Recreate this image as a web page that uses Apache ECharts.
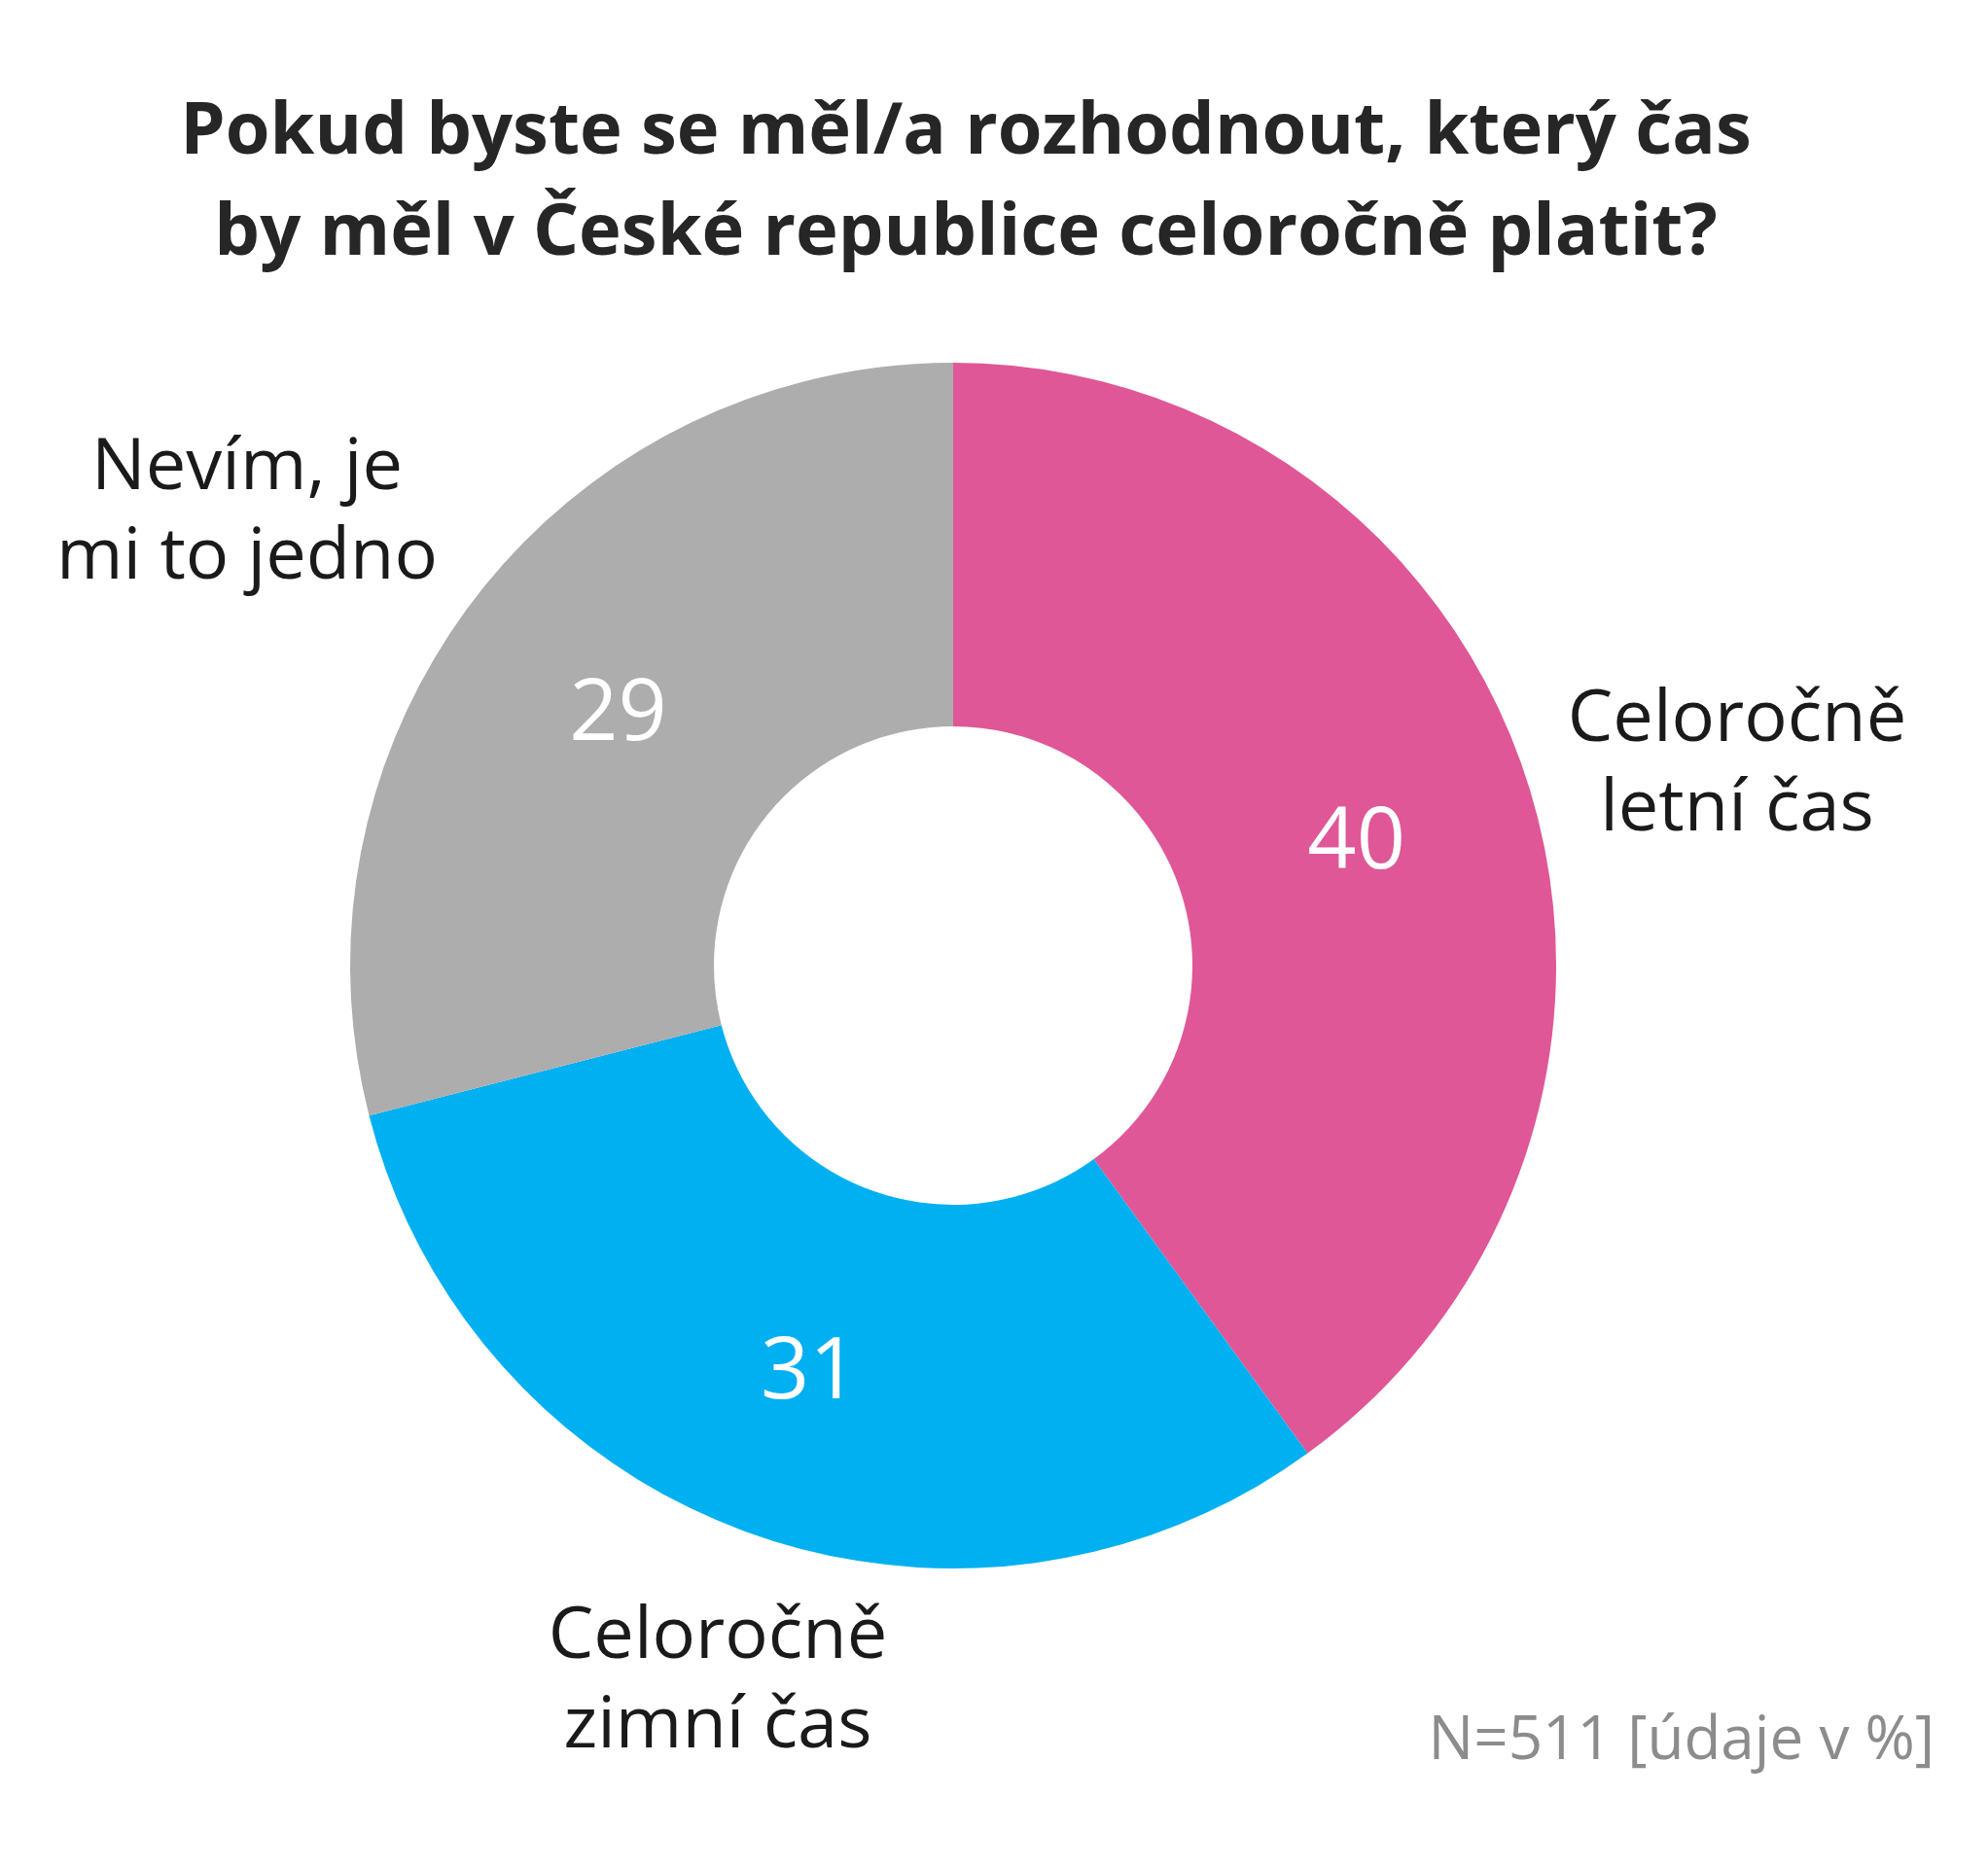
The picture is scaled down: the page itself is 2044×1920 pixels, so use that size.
<!DOCTYPE html>
<html>
<head>
<meta charset="utf-8">
<script src="https://cdn.jsdelivr.net/npm/echarts@6/dist/echarts.min.js"></script>
<style>html,body{margin:0;padding:0;background:#fff;}#c{width:2044px;height:1920px;}</style>
</head>
<body>
<div id="c"></div>
<script>
const titleText = 'Pokud byste se měl/a rozhodnout, který čas\nby měl v České republice celoročně platit?';
const categories = ['Celoročně\nletní čas', 'Celoročně\nzimní čas', 'Nevím, je\nmi to jedno'];
const values = [40, 31, 29];
const colors = ['#DF5796', '#00B0F0', '#ADADAD'];
const footnote = 'N=511 [údaje v %]';

const namePos = [[1786, 787], [738, 1730], [254, 528]];

const chart = echarts.init(document.getElementById('c'), null, {renderer: 'canvas'});
const font = '"Open Sans", "Noto Sans", sans-serif';
chart.setOption({
  backgroundColor: '#fff',
  animation: false,
  title: [{
    text: titleText,
    left: 988,
    top: 80,
    textAlign: 'center',
    textStyle: {fontFamily: font, fontWeight: 'bold', fontSize: 74, lineHeight: 104, color: '#262626'}
  }, {
    text: footnote,
    right: 50,
    top: 1755,
    textStyle: {fontFamily: font, fontWeight: 'normal', fontSize: 62, color: '#8C8C8C'}
  }],
  series: [{
    type: 'pie',
    center: [980, 993],
    radius: [246, 620],
    startAngle: 90,
    clockwise: true,
    silent: true,
    avoidLabelOverlap: false,
    data: values.map((v, i) => ({value: v, name: categories[i], itemStyle: {color: colors[i]}})),
    label: {show: true, position: 'inside', formatter: '{c}', color: '#fff', fontFamily: font, fontSize: 88},
    labelLayout: {dy: 10},
    labelLine: {show: false},
    emphasis: {disabled: true}
  }, {
    type: 'pie',
    center: [980, 993],
    radius: [246, 620],
    startAngle: 90,
    clockwise: true,
    silent: true,
    avoidLabelOverlap: false,
    data: values.map((v, i) => ({value: v, name: categories[i], itemStyle: {color: 'rgba(0,0,0,0)'}})),
    label: {show: true, position: 'outside', formatter: '{b}', color: '#1A1A1A', fontFamily: font, fontSize: 74, lineHeight: 92},
    labelLine: {show: false},
    labelLayout: function (p) {
      const pos = namePos[p.dataIndex];
      return {x: pos[0], y: pos[1], align: 'center', verticalAlign: 'middle'};
    },
    emphasis: {disabled: true}
  }]
});
</script>
</body>
</html>
